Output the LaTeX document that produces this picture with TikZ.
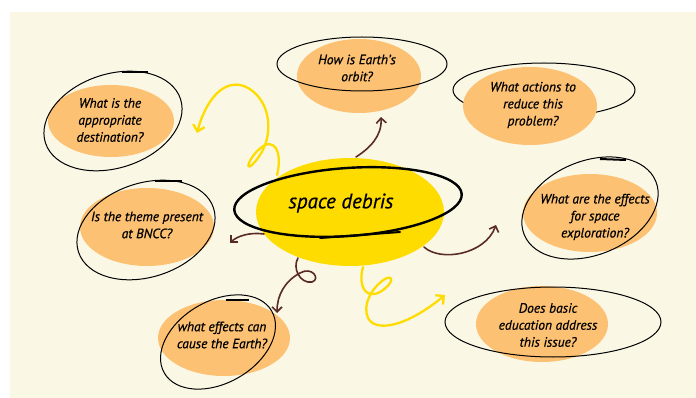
\documentclass[tikz,border=0pt]{standalone}
\usepackage{fontspec}
\setmainfont{PT Sans}[ItalicFeatures={FakeBold=0.6}]
\usetikzlibrary{arrows.meta}
\definecolor{paper}{HTML}{FAF8E5}
\definecolor{peach}{HTML}{FDC173}
\definecolor{sun}{HTML}{FFDC00}
\definecolor{cocoa}{HTML}{5A2A27}
\tikzset{
  blob/.style={fill=peach, draw=none},
  ring/.style={draw=black, line width=1pt},
  qtext/.style={align=center, font=\fontsize{13.5}{17}\selectfont\itshape, inner sep=0pt},
  brownarrow/.style={draw=cocoa, line width=1.6pt, line cap=round,
    -{Straight Barb[length=5pt,width=10pt,line width=1.6pt]}},
  yellowarrow/.style={draw=sun, line width=2.3pt, line cap=round,
    -{Straight Barb[length=6pt,width=12pt,line width=2.3pt]}},
}
\begin{document}
\begin{tikzpicture}[x=1pt,y=-1pt]
\useasboundingbox (0,0) rectangle (696,398);
\fill[paper] (10,12) rectangle (696,398);

% ---- question bubbles: peach blobs ----
\fill[blob] (111,121) ellipse (63 and 36);
\fill[blob] (359,76) ellipse (62 and 37);
\draw[ring] (544,90) ellipse (91 and 27);
\fill[blob] (530,106) ellipse (67 and 39);
\fill[blob] (590,213) ellipse (67 and 39);
\fill[blob] (542,324) ellipse (66 and 38);
\fill[blob] (224,338) ellipse (66 and 38);
\fill[blob] (147,227) ellipse (67 and 39);

% ---- hand drawn rings ----
\draw[ring, rotate around={18:(113,121)}] (113,121) ellipse (71 and 47);
\draw[ring] (362,64) ellipse (85 and 27);
\draw[ring, rotate around={22:(590,208)}] (590,208) ellipse (71 and 47);
\draw[ring] (553,322) ellipse (108 and 35);
\draw[ring, rotate around={30:(218,342)}] (218,342) ellipse (62 and 41);
\draw[ring, rotate around={18:(146,230)}] (146,230) ellipse (71 and 47);
% doubled strokes where the rings close
\draw[line width=2pt] (122,72) -- (148,72);
\draw[line width=2pt] (155,181) -- (182,181);
\draw[line width=2pt] (226,300) -- (249,300);
\draw[line width=2pt] (600,159) -- (626,160);

% ---- central topic ----
\fill[sun] (350,212) ellipse (94 and 54);
\draw[line width=2.4pt, rotate around={4:(348,202)}] (348,202) ellipse (114 and 34);
\draw[line width=2pt, line cap=round] (320,238) -- (400,232);
\node[inner sep=0pt, font=\fontsize{21}{24}\selectfont\itshape] (core) at (341,203) {space debris};

% ---- question texts ----
\node[qtext] (dest) at (110,120) {What is the\\appropriate\\destination?};
\node[qtext] (orbit) at (357,68) {How is Earth's\\orbit?};
\node[qtext] (reduce) at (533,105) {What actions to\\reduce this\\problem?};
\node[qtext] (explore) at (595,217) {What are the effects\\for space\\exploration?};
\node[qtext] (school) at (548,325) {Does basic\\education address\\this issue?};
\node[qtext] (earth) at (222,335) {what effects can\\cause the Earth?};
\node[qtext] (bncc) at (147,225) {Is the theme present\\at BNCC?};

% ---- connectors ----
\coordinate (a1s) at (356,157);
\coordinate (a1e) at (381,117);
\draw[brownarrow] (a1s) .. controls (370,148) and (382,136) .. (a1e);

\coordinate (a2s) at (264,234);
\coordinate (a2e) at (230,243);
\draw[brownarrow] (a2s) .. controls (250,232) and (237,236) .. (a2e);

\coordinate (a3s) at (298,258);
\coordinate (a3e) at (277,313);
\draw[brownarrow] (a3s) .. controls (292,268) and (300,284) .. (312,282)
  .. controls (321,279) and (312,266) .. (300,273)
  .. controls (285,281) and (277,295) .. (a3e);

\coordinate (a4s) at (424,247);
\coordinate (a4e) at (496,225);
\draw[brownarrow] (a4s) .. controls (440,262) and (485,255) .. (a4e);

\coordinate (y1s) at (277,175);
\coordinate (y1e) at (197,133);
\draw[yellowarrow] (y1s) .. controls (281,160) and (279,140) .. (265,145)
  .. controls (252,152) and (243,172) .. (252,165)
  .. controls (262,155) and (270,140) .. (268,120)
  .. controls (265,95) and (245,82) .. (232,85)
  .. controls (215,88) and (203,110) .. (y1e);

\coordinate (y2s) at (363,267);
\coordinate (y2e) at (445,295);
\draw[yellowarrow] (y2s) .. controls (358,285) and (365,300) .. (380,292)
  .. controls (395,283) and (393,274) .. (385,279)
  .. controls (372,287) and (362,305) .. (368,318)
  .. controls (375,332) and (405,328) .. (y2e);
\end{tikzpicture}
\end{document}
